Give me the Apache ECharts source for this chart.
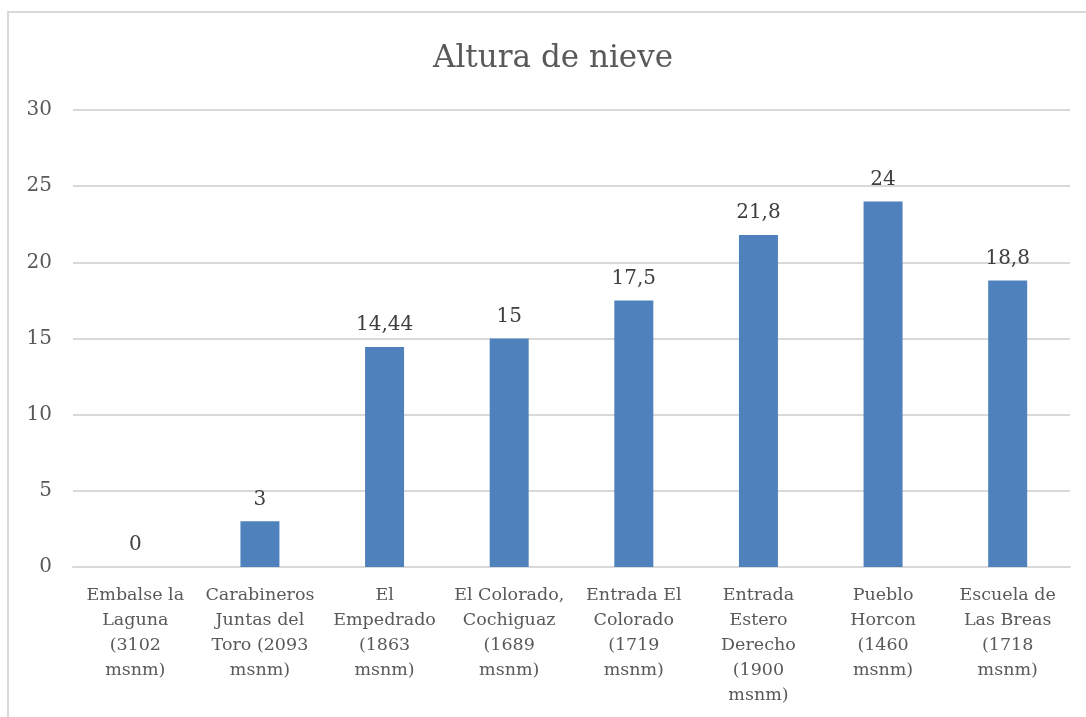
<!DOCTYPE html>
<html>
<head>
<meta charset="utf-8">
<title>Altura de nieve</title>
<script src="https://cdn.jsdelivr.net/npm/echarts@6/dist/echarts.min.js"></script>
<style>
  html, body { margin: 0; padding: 0; background: #fff; }
  #chart { width: 1086px; height: 717px; }
</style>
</head>
<body>
<div id="chart"></div>
<script>
// estaciones
const categories = [
    "Embalse la\nLaguna\n(3102\nmsnm)",
    "Carabineros\nJuntas del\nToro (2093\nmsnm)",
    "El\nEmpedrado\n(1863\nmsnm)",
    "El Colorado,\nCochiguaz\n(1689\nmsnm)",
    "Entrada El\nColorado\n(1719\nmsnm)",
    "Entrada\nEstero\nDerecho\n(1900\nmsnm)",
    "Pueblo\nHorcon\n(1460\nmsnm)",
    "Escuela de\nLas Breas\n(1718\nmsnm)"
];
// altura de nieve (cm)
const snowValues = [0, 3, 14.44, 15, 17.5, 21.8, 24, 18.8];

const font = "DejaVu Serif";

let chart = echarts.init(document.getElementById('chart'), null, { renderer: 'canvas' });
chart.setOption({
    backgroundColor: '#fff',
    animation: false,
    title: {
        text: 'Altura de nieve',
        left: 428,
        top: 38,
        textStyle: { fontFamily: font, fontSize: 31, fontWeight: 'normal', color: '#595959' }
    },
    // marco del gráfico
    graphic: [{
        type: 'rect',
        shape: { x: 8, y: 12, width: 1200, height: 800 },
        style: { fill: 'none', stroke: '#d9d9d9', lineWidth: 2 },
        silent: true
    }],
    grid: { left: 73, right: 16, top: 110, bottom: 150, containLabel: false },
    xAxis: {
        type: 'category',
        data: categories,
        axisLine: { lineStyle: { color: '#d9d9d9', width: 2 } },
        axisTick: { show: false },
        axisLabel: {
            interval: 0,
            margin: 16,
            fontFamily: font,
            fontSize: 17.5,
            lineHeight: 25,
            color: '#595959'
        }
    },
    yAxis: {
        type: 'value',
        min: 0,
        max: 30,
        interval: 5,
        axisLine: { show: false },
        axisTick: { show: false },
        splitLine: { lineStyle: { color: '#d9d9d9', width: 2 } },
        axisLabel: { margin: 21, fontFamily: font, fontSize: 20, color: '#595959' }
    },
    series: [{
        type: 'bar',
        data: snowValues,
        barWidth: 39,
        itemStyle: { color: '#4f81bd' },
        label: {
            show: true,
            position: 'top',
            distance: 12,
            fontFamily: font,
            fontSize: 20,
            color: '#404040',
            formatter: p => String(p.value).replace('.', ',')
        }
    }]
});
</script>
</body>
</html>
